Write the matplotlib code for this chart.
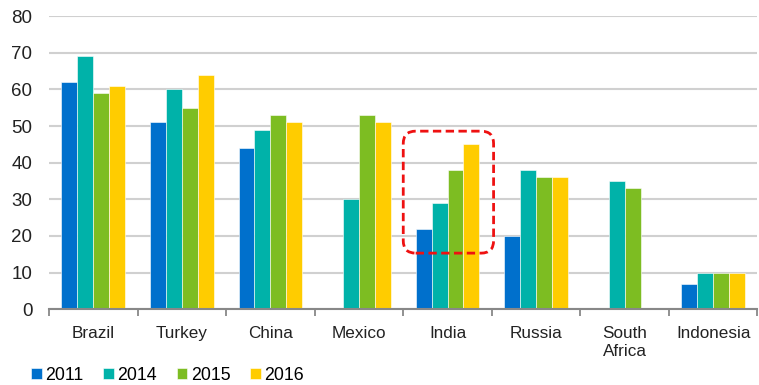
import numpy as np
import matplotlib.pyplot as plt
from matplotlib.patches import FancyBboxPatch

plt.rcParams['font.family'] = ['Liberation Sans', 'DejaVu Sans']

# Données
countries = ['Brazil', 'Turkey', 'China', 'Mexico', 'India', 'Russia', 'South\nAfrica', 'Indonesia']
years = ['2011', '2014', '2015', '2016']
v2011 = [62, 51, 44, np.nan, 22, 20, np.nan, 7]
v2014 = [69, 60, 49, 30, 29, 38, 35, 10]
v2015 = [59, 55, 53, 53, 38, 36, 33, 10]
v2016 = [61, 64, 51, 51, 45, 36, np.nan, 10]
colors = ['#0070CC', '#00B2A9', '#7DBD22', '#FFCC00']

fig = plt.figure(figsize=(7.59, 3.85), dpi=100)
ax = fig.add_axes([0.0646, 0.197, 0.9334, 0.761])

x = np.arange(len(countries))
w = 0.18
for i, (vals, c, yr) in enumerate(zip([v2011, v2014, v2015, v2016], colors, years)):
    ax.bar(x + (i - 1.5) * w, vals, width=w, color=c, label=yr,
           edgecolor='white', linewidth=0.4, zorder=3)

ax.set_xlim(-0.5, len(countries) - 0.5)
ax.set_ylim(0, 80)
ax.set_yticks(range(0, 81, 10))
ax.yaxis.grid(True, color='#D0D0D0', linewidth=1.5, zorder=0)
ax.tick_params(axis='y', length=0, pad=12, labelsize=13.5, labelcolor='#222222')

ax.set_xticks(x)
ax.set_xticklabels(countries, fontsize=12.3, color='#222222', linespacing=1.3)
ax.set_xticks(np.arange(-0.5, len(countries)), minor=True)
ax.tick_params(axis='x', which='major', length=0, pad=12)
ax.tick_params(axis='x', which='minor', length=5, width=1.3, color='#888888', direction='out')

for s in ['top', 'right', 'left']:
    ax.spines[s].set_visible(False)
ax.spines['bottom'].set_color('#888888')
ax.spines['bottom'].set_linewidth(1.5)
ax.spines['bottom'].set_zorder(4)

# Cadre rouge autour de l'Inde
aspect = (88.6 / 1.0) / (36.6 / 10.0)
box = FancyBboxPatch((3.5, 15.3), 1.02, 33.3,
                     boxstyle='round,pad=0,rounding_size=0.14',
                     mutation_aspect=aspect, fill=False,
                     edgecolor='#EE1111', linewidth=2, linestyle=(0, (3, 1.6)),
                     zorder=5, clip_on=False)
ax.add_patch(box)

fig.legend(loc='lower left', bbox_to_anchor=(0.027, -0.025), ncol=4, frameon=False,
           fontsize=12.8, handlelength=0.6, handleheight=0.6, handletextpad=0.2,
           columnspacing=1.1, borderaxespad=0.2)

fig.savefig('out.png', dpi=100)
